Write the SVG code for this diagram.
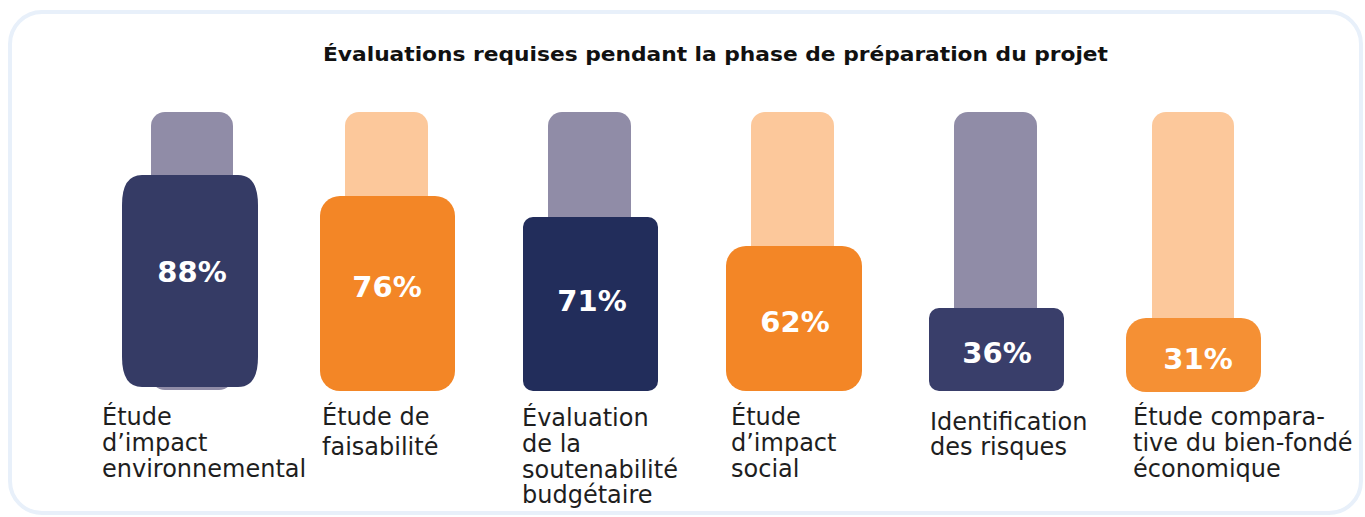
<svg xmlns="http://www.w3.org/2000/svg" width="1365" height="517" viewBox="0 0 1365 517">
<style>
.card{fill:#ffffff;stroke:#e8f0fa;stroke-width:4}
.title{font-family:"DejaVu Sans","Liberation Sans",sans-serif;font-weight:700;font-size:19px;fill:#111111}
.pct{font-family:"DejaVu Sans","Liberation Sans",sans-serif;font-weight:700;font-size:29px;fill:#ffffff;text-anchor:middle}
.lbl{font-family:"DejaVu Sans","Liberation Sans",sans-serif;font-weight:400;font-size:24px;fill:#1e1e1e}
.bgN{fill:#908ca7}
.bgO{fill:#fcc89b}
</style>
<rect class="card" x="10" y="12" width="1351" height="501" rx="32"/>
<text class="title" x="323" y="61" textLength="785" lengthAdjust="spacingAndGlyphs">Évaluations requises pendant la phase de préparation du projet</text>

<g id="bar1">
<rect class="bgN" x="151" y="112" width="82" height="278" rx="14"/>
<path d="M142,175 H238 Q258,175 258,205 V357 Q258,387 238,387 H142 Q122,387 122,357 V205 Q122,175 142,175 Z" fill="#353b65"/>
<text class="pct" x="192" y="282">88%</text>
<text class="lbl" x="102" y="425">Étude</text>
<text class="lbl" x="102" y="451">d’impact</text>
<text class="lbl" x="102" y="477">environnemental</text>
</g>

<g id="bar2">
<rect class="bgO" x="345" y="112" width="83" height="270" rx="14"/>
<rect x="320" y="196" width="135" height="195" rx="20" fill="#f38626"/>
<text class="pct" x="387" y="297">76%</text>
<text class="lbl" x="322" y="425">Étude de</text>
<text class="lbl" x="322" y="455">faisabilité</text>
</g>

<g id="bar3">
<rect class="bgN" x="548" y="112" width="83" height="270" rx="14"/>
<rect x="523" y="217" width="135" height="174" rx="10" fill="#222d5b"/>
<text class="pct" x="592" y="311">71%</text>
<text class="lbl" x="522" y="426">Évaluation</text>
<text class="lbl" x="522" y="452">de la</text>
<text class="lbl" x="522" y="478">soutenabilité</text>
<text class="lbl" x="522" y="503">budgétaire</text>
</g>

<g id="bar4">
<rect class="bgO" x="751" y="112" width="83" height="270" rx="14"/>
<rect x="726" y="246" width="136" height="145" rx="20" fill="#f38626"/>
<text class="pct" x="795" y="332">62%</text>
<text class="lbl" x="731" y="425">Étude</text>
<text class="lbl" x="731" y="451">d’impact</text>
<text class="lbl" x="731" y="477">social</text>
</g>

<g id="bar5">
<rect class="bgN" x="954" y="112" width="83" height="270" rx="14"/>
<rect x="929" y="308" width="135" height="83" rx="10" fill="#393e6a"/>
<text class="pct" x="997" y="363">36%</text>
<text class="lbl" x="930" y="430">Identification</text>
<text class="lbl" x="930" y="455">des risques</text>
</g>

<g id="bar6">
<rect class="bgO" x="1152" y="112" width="82" height="270" rx="14"/>
<rect x="1126" y="318" width="135" height="74" rx="20" fill="#f59034"/>
<text class="pct" x="1198" y="369">31%</text>
<text class="lbl" x="1133" y="425">Étude compara-</text>
<text class="lbl" x="1133" y="451">tive du bien-fondé</text>
<text class="lbl" x="1133" y="477">économique</text>
</g>
</svg>
